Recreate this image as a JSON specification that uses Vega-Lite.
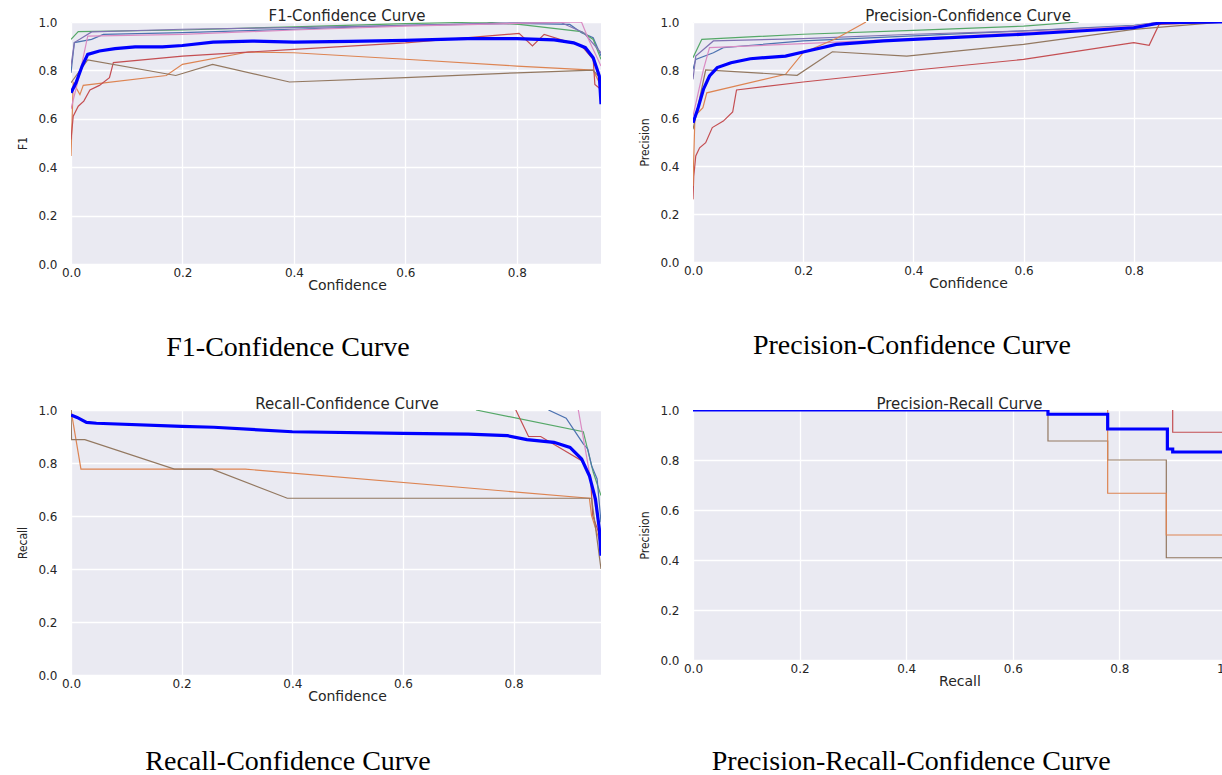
{
  "$schema": "https://vega.github.io/schema/vega-lite/v6.json",
  "background": "white",
  "padding": {"left": 16, "top": 9, "right": 0, "bottom": 0},
  "config": {
    "view": {"fill": "#EAEAF2", "stroke": null},
    "axis": {"domain": false, "ticks": false, "tickSize": 0, "gridColor": "white", "gridWidth": 1.3, "labelFont": "DejaVu Sans", "labelFontSize": 12, "labelColor": "#262626", "labelFlush": false, "titleFont": "DejaVu Sans", "titleFontWeight": "normal", "titleColor": "#262626", "titleFontSize": 14},
    "axisY": {"labelPadding": 14, "titlePadding": 8, "titleFont": "DejaVu Sans Condensed", "titleFontSize": 12},
    "axisX": {"labelPadding": 3, "titlePadding": 0},
    "title": {"font": "DejaVu Sans", "fontSize": 15, "fontWeight": "normal", "color": "#262626", "offset": -8, "anchor": "middle"}
  },
  "datasets": {
    "f1": [
      {"c":"blue","x":0,"y":0.79,"i":0},{"c":"blue","x":0.006,"y":0.915,"i":1},{"c":"blue","x":0.037,"y":0.928,"i":2},{"c":"blue","x":0.058,"y":0.949,"i":3},{"c":"blue","x":0.2,"y":0.956,"i":4},{"c":"blue","x":0.4,"y":0.97,"i":5},{"c":"blue","x":0.6,"y":0.986,"i":6},{"c":"blue","x":0.8,"y":0.994,"i":7},{"c":"blue","x":0.895,"y":0.99,"i":8},{"c":"blue","x":0.916,"y":0.956,"i":9},{"c":"blue","x":0.937,"y":0.935,"i":10},{"c":"blue","x":0.951,"y":0.86,"i":11},
      {"c":"orange","x":0,"y":0.446,"i":0},{"c":"orange","x":0.004,"y":0.749,"i":1},{"c":"orange","x":0.016,"y":0.70,"i":2},{"c":"orange","x":0.022,"y":0.738,"i":3},{"c":"orange","x":0.171,"y":0.779,"i":4},{"c":"orange","x":0.2,"y":0.825,"i":5},{"c":"orange","x":0.318,"y":0.876,"i":6},{"c":"orange","x":0.4,"y":0.873,"i":7},{"c":"orange","x":0.6,"y":0.846,"i":8},{"c":"orange","x":0.8,"y":0.818,"i":9},{"c":"orange","x":0.937,"y":0.801,"i":10},{"c":"orange","x":0.951,"y":0.735,"i":11},
      {"c":"green","x":0,"y":0.928,"i":0},{"c":"green","x":0.013,"y":0.96,"i":1},{"c":"green","x":0.2,"y":0.967,"i":2},{"c":"green","x":0.4,"y":0.98,"i":3},{"c":"green","x":0.6,"y":0.993,"i":4},{"c":"green","x":0.74,"y":1.0,"i":5},{"c":"green","x":0.804,"y":0.99,"i":6},{"c":"green","x":0.916,"y":0.96,"i":7},{"c":"green","x":0.937,"y":0.928,"i":8},{"c":"green","x":0.951,"y":0.846,"i":9},
      {"c":"red","x":0,"y":0.514,"i":0},{"c":"red","x":0.004,"y":0.611,"i":1},{"c":"red","x":0.013,"y":0.652,"i":2},{"c":"red","x":0.023,"y":0.673,"i":3},{"c":"red","x":0.034,"y":0.719,"i":4},{"c":"red","x":0.051,"y":0.738,"i":5},{"c":"red","x":0.069,"y":0.77,"i":6},{"c":"red","x":0.076,"y":0.832,"i":7},{"c":"red","x":0.2,"y":0.859,"i":8},{"c":"red","x":0.4,"y":0.887,"i":9},{"c":"red","x":0.6,"y":0.914,"i":10},{"c":"red","x":0.804,"y":0.953,"i":11},{"c":"red","x":0.828,"y":0.901,"i":12},{"c":"red","x":0.849,"y":0.949,"i":13},{"c":"red","x":0.916,"y":0.901,"i":14},{"c":"red","x":0.937,"y":0.846,"i":15},{"c":"red","x":0.94,"y":0.742,"i":16},{"c":"red","x":0.951,"y":0.721,"i":17},
      {"c":"purple","x":0,"y":0.818,"i":0},{"c":"purple","x":0.006,"y":0.915,"i":1},{"c":"purple","x":0.037,"y":0.959,"i":2},{"c":"purple","x":0.2,"y":0.97,"i":3},{"c":"purple","x":0.4,"y":0.977,"i":4},{"c":"purple","x":0.6,"y":0.986,"i":5},{"c":"purple","x":0.8,"y":0.997,"i":6},{"c":"purple","x":0.88,"y":0.997,"i":7},{"c":"purple","x":0.92,"y":0.956,"i":8},{"c":"purple","x":0.951,"y":0.873,"i":9},
      {"c":"brown","x":0,"y":0.749,"i":0},{"c":"brown","x":0.03,"y":0.843,"i":1},{"c":"brown","x":0.188,"y":0.779,"i":2},{"c":"brown","x":0.254,"y":0.825,"i":3},{"c":"brown","x":0.392,"y":0.752,"i":4},{"c":"brown","x":0.6,"y":0.77,"i":5},{"c":"brown","x":0.8,"y":0.79,"i":6},{"c":"brown","x":0.937,"y":0.801,"i":7},{"c":"brown","x":0.951,"y":0.763,"i":8},
      {"c":"pink","x":0,"y":0.64,"i":0},{"c":"pink","x":0.016,"y":0.79,"i":1},{"c":"pink","x":0.03,"y":0.942,"i":2},{"c":"pink","x":0.2,"y":0.949,"i":3},{"c":"pink","x":0.4,"y":0.967,"i":4},{"c":"pink","x":0.6,"y":0.983,"i":5},{"c":"pink","x":0.8,"y":0.994,"i":6},{"c":"pink","x":0.916,"y":1.0,"i":7},{"c":"pink","x":0.93,"y":0.921,"i":8},{"c":"pink","x":0.951,"y":0.818,"i":9},
      {"c":"all","x":0,"y":0.708,"i":0},{"c":"all","x":0.009,"y":0.749,"i":1},{"c":"all","x":0.02,"y":0.818,"i":2},{"c":"all","x":0.03,"y":0.866,"i":3},{"c":"all","x":0.051,"y":0.88,"i":4},{"c":"all","x":0.079,"y":0.89,"i":5},{"c":"all","x":0.115,"y":0.897,"i":6},{"c":"all","x":0.164,"y":0.897,"i":7},{"c":"all","x":0.2,"y":0.903,"i":8},{"c":"all","x":0.255,"y":0.917,"i":9},{"c":"all","x":0.325,"y":0.921,"i":10},{"c":"all","x":0.4,"y":0.917,"i":11},{"c":"all","x":0.5,"y":0.92,"i":12},{"c":"all","x":0.6,"y":0.924,"i":13},{"c":"all","x":0.712,"y":0.931,"i":14},{"c":"all","x":0.8,"y":0.931,"i":15},{"c":"all","x":0.867,"y":0.926,"i":16},{"c":"all","x":0.902,"y":0.914,"i":17},{"c":"all","x":0.923,"y":0.894,"i":18},{"c":"all","x":0.937,"y":0.852,"i":19},{"c":"all","x":0.948,"y":0.777,"i":20},{"c":"all","x":0.951,"y":0.66,"i":21}
    ],
    "prec": [
      {"c":"green","x":0,"y":0.851,"i":0},{"c":"green","x":0.016,"y":0.928,"i":1},{"c":"green","x":0.2,"y":0.949,"i":2},{"c":"green","x":0.4,"y":0.965,"i":3},{"c":"green","x":0.6,"y":0.983,"i":4},{"c":"green","x":0.7,"y":1.0,"i":5},
      {"c":"blue","x":0,"y":0.803,"i":0},{"c":"blue","x":0.005,"y":0.844,"i":1},{"c":"blue","x":0.037,"y":0.872,"i":2},{"c":"blue","x":0.055,"y":0.893,"i":3},{"c":"blue","x":0.2,"y":0.921,"i":4},{"c":"blue","x":0.4,"y":0.942,"i":5},{"c":"blue","x":0.6,"y":0.963,"i":6},{"c":"blue","x":0.8,"y":0.986,"i":7},{"c":"blue","x":0.842,"y":0.997,"i":8},{"c":"blue","x":0.962,"y":1.0,"i":9},
      {"c":"purple","x":0,"y":0.761,"i":0},{"c":"purple","x":0.005,"y":0.858,"i":1},{"c":"purple","x":0.037,"y":0.921,"i":2},{"c":"purple","x":0.2,"y":0.931,"i":3},{"c":"purple","x":0.4,"y":0.949,"i":4},{"c":"purple","x":0.6,"y":0.963,"i":5},{"c":"purple","x":0.8,"y":0.983,"i":6},{"c":"purple","x":0.85,"y":1.0,"i":7},
      {"c":"pink","x":0,"y":0.608,"i":0},{"c":"pink","x":0.019,"y":0.803,"i":1},{"c":"pink","x":0.03,"y":0.893,"i":2},{"c":"pink","x":0.2,"y":0.91,"i":3},{"c":"pink","x":0.4,"y":0.931,"i":4},{"c":"pink","x":0.6,"y":0.956,"i":5},{"c":"pink","x":0.8,"y":0.983,"i":6},{"c":"pink","x":0.85,"y":1.0,"i":7},
      {"c":"red","x":0,"y":0.261,"i":0},{"c":"red","x":0.0014,"y":0.358,"i":1},{"c":"red","x":0.005,"y":0.442,"i":2},{"c":"red","x":0.012,"y":0.476,"i":3},{"c":"red","x":0.023,"y":0.497,"i":4},{"c":"red","x":0.035,"y":0.56,"i":5},{"c":"red","x":0.055,"y":0.587,"i":6},{"c":"red","x":0.072,"y":0.625,"i":7},{"c":"red","x":0.079,"y":0.717,"i":8},{"c":"red","x":0.2,"y":0.75,"i":9},{"c":"red","x":0.4,"y":0.799,"i":10},{"c":"red","x":0.6,"y":0.844,"i":11},{"c":"red","x":0.8,"y":0.914,"i":12},{"c":"red","x":0.828,"y":0.903,"i":13},{"c":"red","x":0.846,"y":0.99,"i":14},{"c":"red","x":0.962,"y":1.0,"i":15},
      {"c":"orange","x":0,"y":0.317,"i":0},{"c":"orange","x":0.0035,"y":0.608,"i":1},{"c":"orange","x":0.018,"y":0.643,"i":2},{"c":"orange","x":0.025,"y":0.705,"i":3},{"c":"orange","x":0.168,"y":0.782,"i":4},{"c":"orange","x":0.2,"y":0.872,"i":5},{"c":"orange","x":0.26,"y":0.931,"i":6},{"c":"orange","x":0.314,"y":1.0,"i":7},
      {"c":"brown","x":0,"y":0.553,"i":0},{"c":"brown","x":0.023,"y":0.8,"i":1},{"c":"brown","x":0.189,"y":0.778,"i":2},{"c":"brown","x":0.253,"y":0.876,"i":3},{"c":"brown","x":0.388,"y":0.858,"i":4},{"c":"brown","x":0.6,"y":0.907,"i":5},{"c":"brown","x":0.8,"y":0.969,"i":6},{"c":"brown","x":0.962,"y":1.0,"i":7},
      {"c":"all","x":0,"y":0.58,"i":0},{"c":"all","x":0.0085,"y":0.636,"i":1},{"c":"all","x":0.019,"y":0.72,"i":2},{"c":"all","x":0.03,"y":0.775,"i":3},{"c":"all","x":0.044,"y":0.81,"i":4},{"c":"all","x":0.069,"y":0.83,"i":5},{"c":"all","x":0.104,"y":0.847,"i":6},{"c":"all","x":0.168,"y":0.858,"i":7},{"c":"all","x":0.2,"y":0.875,"i":8},{"c":"all","x":0.26,"y":0.907,"i":9},{"c":"all","x":0.346,"y":0.921,"i":10},{"c":"all","x":0.4,"y":0.928,"i":11},{"c":"all","x":0.6,"y":0.949,"i":12},{"c":"all","x":0.8,"y":0.976,"i":13},{"c":"all","x":0.85,"y":0.997,"i":14},{"c":"all","x":0.962,"y":1.0,"i":15}
    ],
    "rec": [
      {"c":"green","x":0.732,"y":1.0,"i":0},{"c":"green","x":0.926,"y":0.918,"i":1},{"c":"green","x":0.944,"y":0.765,"i":2},{"c":"green","x":0.958,"y":0.677,"i":3},
      {"c":"blue","x":0.863,"y":1.0,"i":0},{"c":"blue","x":0.895,"y":0.969,"i":1},{"c":"blue","x":0.916,"y":0.903,"i":2},{"c":"blue","x":0.926,"y":0.872,"i":3},{"c":"blue","x":0.934,"y":0.853,"i":4},{"c":"blue","x":0.941,"y":0.79,"i":5},{"c":"blue","x":0.951,"y":0.74,"i":6},{"c":"blue","x":0.958,"y":0.576,"i":7},
      {"c":"pink","x":0.917,"y":1.0,"i":0},{"c":"pink","x":0.937,"y":0.765,"i":1},{"c":"pink","x":0.958,"y":0.513,"i":2},
      {"c":"red","x":0.804,"y":1.0,"i":0},{"c":"red","x":0.827,"y":0.9,"i":1},{"c":"red","x":0.849,"y":0.9,"i":2},{"c":"red","x":0.923,"y":0.809,"i":3},{"c":"red","x":0.939,"y":0.752,"i":4},{"c":"red","x":0.943,"y":0.601,"i":5},{"c":"red","x":0.958,"y":0.513,"i":6},
      {"c":"orange","x":0,"y":1.0,"i":0},{"c":"orange","x":0.009,"y":0.888,"i":1},{"c":"orange","x":0.018,"y":0.777,"i":2},{"c":"orange","x":0.315,"y":0.777,"i":3},{"c":"orange","x":0.937,"y":0.667,"i":4},{"c":"orange","x":0.941,"y":0.601,"i":5},{"c":"orange","x":0.958,"y":0.488,"i":6},
      {"c":"brown","x":0,"y":1.0,"i":0},{"c":"brown","x":0.001,"y":0.888,"i":1},{"c":"brown","x":0.025,"y":0.888,"i":2},{"c":"brown","x":0.187,"y":0.777,"i":3},{"c":"brown","x":0.255,"y":0.777,"i":4},{"c":"brown","x":0.391,"y":0.667,"i":5},{"c":"brown","x":0.941,"y":0.667,"i":6},{"c":"brown","x":0.958,"y":0.4,"i":7},
      {"c":"all","x":0,"y":0.981,"i":0},{"c":"all","x":0.011,"y":0.972,"i":1},{"c":"all","x":0.028,"y":0.953,"i":2},{"c":"all","x":0.046,"y":0.95,"i":3},{"c":"all","x":0.2,"y":0.938,"i":4},{"c":"all","x":0.258,"y":0.935,"i":5},{"c":"all","x":0.4,"y":0.918,"i":6},{"c":"all","x":0.6,"y":0.912,"i":7},{"c":"all","x":0.718,"y":0.909,"i":8},{"c":"all","x":0.789,"y":0.903,"i":9},{"c":"all","x":0.824,"y":0.888,"i":10},{"c":"all","x":0.873,"y":0.878,"i":11},{"c":"all","x":0.902,"y":0.859,"i":12},{"c":"all","x":0.923,"y":0.815,"i":13},{"c":"all","x":0.937,"y":0.752,"i":14},{"c":"all","x":0.948,"y":0.664,"i":15},{"c":"all","x":0.955,"y":0.551,"i":16},{"c":"all","x":0.958,"y":0.45,"i":17}
    ],
    "pr": [
      {"c":"brown","x":0.666,"y":1.0,"i":0},{"c":"brown","x":0.666,"y":0.876,"i":1},{"c":"brown","x":0.778,"y":0.876,"i":2},{"c":"brown","x":0.778,"y":0.8,"i":3},{"c":"brown","x":0.888,"y":0.8,"i":4},{"c":"brown","x":0.888,"y":0.409,"i":5},{"c":"brown","x":1.0,"y":0.409,"i":6},
      {"c":"orange","x":0.778,"y":1.0,"i":0},{"c":"orange","x":0.778,"y":0.667,"i":1},{"c":"orange","x":0.888,"y":0.667,"i":2},{"c":"orange","x":0.888,"y":0.5,"i":3},{"c":"orange","x":1.0,"y":0.5,"i":4},
      {"c":"red","x":0.9,"y":1.0,"i":0},{"c":"red","x":0.9,"y":0.911,"i":1},{"c":"red","x":1.0,"y":0.911,"i":2},
      {"c":"all","x":0,"y":1.0,"i":0},{"c":"all","x":0.666,"y":1.0,"i":1},{"c":"all","x":0.666,"y":0.983,"i":2},{"c":"all","x":0.778,"y":0.983,"i":3},{"c":"all","x":0.778,"y":0.924,"i":4},{"c":"all","x":0.89,"y":0.924,"i":5},{"c":"all","x":0.89,"y":0.844,"i":6},{"c":"all","x":0.9,"y":0.844,"i":7},{"c":"all","x":0.9,"y":0.832,"i":8},{"c":"all","x":1.0,"y":0.832,"i":9}
    ]
  },
  "spacing": 35,
  "vconcat": [
    {
      "spacing": 37,
      "hconcat": [
        {
          "title": {"text": "F1-Confidence Curve", "orient": "bottom", "anchor": "middle", "font": "Liberation Serif", "fontSize": 28, "fontWeight": "normal", "color": "black", "offset": 42, "dx": -21},
          "vconcat": [
            {
              "width": 530, "height": 242,
              "title": {"text": "F1-Confidence Curve", "dx": 11},
              "data": {"name": "f1"},
              "encoding": {
                "x": {"field": "x", "type": "quantitative", "scale": {"domain": [0, 0.951], "nice": false, "zero": false}, "axis": {"values": [0, 0.2, 0.4, 0.6, 0.8], "format": ".1f", "title": "Confidence", "titleX": 276}},
                "y": {"field": "y", "type": "quantitative", "scale": {"domain": [0, 1], "nice": false}, "axis": {"values": [0, 0.2, 0.4, 0.6, 0.8, 1.0], "format": ".1f", "title": "F1"}},
                "order": {"field": "i", "type": "quantitative"}
              },
              "layer": [
                {"transform": [{"filter": "datum.c !== 'all'"}], "mark": {"type": "line", "clip": true, "strokeWidth": 1.2},
                 "encoding": {"color": {"field": "c", "type": "nominal", "legend": null, "scale": {"domain": ["blue","orange","green","red","purple","brown","pink"], "range": ["#4C72B0","#DD8452","#55A868","#C44E52","#8172B3","#937860","#DA8BC3"]}}}},
                {"transform": [{"filter": "datum.c === 'all'"}], "mark": {"type": "line", "clip": true, "strokeWidth": 3.2, "color": "#0000FF"}, "encoding": {}}
              ]
            }
          ]
        },
        {
          "title": {"text": "Precision-Confidence Curve", "orient": "bottom", "anchor": "middle", "font": "Liberation Serif", "fontSize": 28, "fontWeight": "normal", "color": "black", "offset": 42, "dx": -19},
          "vconcat": [
            {
              "width": 530, "height": 240,
              "title": {"text": "Precision-Confidence Curve", "dx": 10},
              "data": {"name": "prec"},
              "encoding": {
                "x": {"field": "x", "type": "quantitative", "scale": {"domain": [0, 0.962], "nice": false, "zero": false}, "axis": {"values": [0, 0.2, 0.4, 0.6, 0.8], "format": ".1f", "title": "Confidence", "titleX": 275}},
                "y": {"field": "y", "type": "quantitative", "scale": {"domain": [0, 1], "nice": false}, "axis": {"values": [0, 0.2, 0.4, 0.6, 0.8, 1.0], "format": ".1f", "title": "Precision"}},
                "order": {"field": "i", "type": "quantitative"}
              },
              "layer": [
                {"transform": [{"filter": "datum.c !== 'all'"}], "mark": {"type": "line", "clip": true, "strokeWidth": 1.2},
                 "encoding": {"color": {"field": "c", "type": "nominal", "legend": null, "scale": {"domain": ["blue","orange","green","red","purple","brown","pink"], "range": ["#4C72B0","#DD8452","#55A868","#C44E52","#8172B3","#937860","#DA8BC3"]}}}},
                {"transform": [{"filter": "datum.c === 'all'"}], "mark": {"type": "line", "clip": true, "strokeWidth": 3.2, "color": "#0000FF"}, "encoding": {}}
              ]
            }
          ]
        }
      ]
    },
    {
      "spacing": 37,
      "hconcat": [
        {
          "title": {"text": "Recall-Confidence Curve", "orient": "bottom", "anchor": "middle", "font": "Liberation Serif", "fontSize": 28, "fontWeight": "normal", "color": "black", "offset": 45, "dx": -21},
          "vconcat": [
            {
              "width": 530, "height": 265,
              "title": {"text": "Recall-Confidence Curve", "dx": 11},
              "data": {"name": "rec"},
              "encoding": {
                "x": {"field": "x", "type": "quantitative", "scale": {"domain": [0, 0.958], "nice": false, "zero": false}, "axis": {"values": [0, 0.2, 0.4, 0.6, 0.8], "format": ".1f", "title": "Confidence", "titleX": 276}},
                "y": {"field": "y", "type": "quantitative", "scale": {"domain": [0, 1], "nice": false}, "axis": {"values": [0, 0.2, 0.4, 0.6, 0.8, 1.0], "format": ".1f", "title": "Recall"}},
                "order": {"field": "i", "type": "quantitative"}
              },
              "layer": [
                {"transform": [{"filter": "datum.c !== 'all'"}], "mark": {"type": "line", "clip": true, "strokeWidth": 1.2},
                 "encoding": {"color": {"field": "c", "type": "nominal", "legend": null, "scale": {"domain": ["blue","orange","green","red","purple","brown","pink"], "range": ["#4C72B0","#DD8452","#55A868","#C44E52","#8172B3","#937860","#DA8BC3"]}}}},
                {"transform": [{"filter": "datum.c === 'all'"}], "mark": {"type": "line", "clip": true, "strokeWidth": 3.2, "color": "#0000FF"}, "encoding": {}}
              ]
            }
          ]
        },
        {
          "title": {"text": "Precision-Recall-Confidence Curve", "orient": "bottom", "anchor": "middle", "font": "Liberation Serif", "fontSize": 28, "fontWeight": "normal", "color": "black", "offset": 60, "dx": -26},
          "vconcat": [
            {
              "width": 533, "height": 250,
              "title": "Precision-Recall Curve",
              "data": {"name": "pr"},
              "encoding": {
                "x": {"field": "x", "type": "quantitative", "scale": {"domain": [0, 1], "nice": false, "zero": false}, "axis": {"values": [0, 0.2, 0.4, 0.6, 0.8, 1.0], "format": ".1f", "title": "Recall"}},
                "y": {"field": "y", "type": "quantitative", "scale": {"domain": [0, 1], "nice": false}, "axis": {"values": [0, 0.2, 0.4, 0.6, 0.8, 1.0], "format": ".1f", "title": "Precision"}},
                "order": {"field": "i", "type": "quantitative"}
              },
              "layer": [
                {"transform": [{"filter": "datum.c !== 'all'"}], "mark": {"type": "line", "clip": true, "strokeWidth": 1.2},
                 "encoding": {"color": {"field": "c", "type": "nominal", "legend": null, "scale": {"domain": ["blue","orange","green","red","purple","brown","pink"], "range": ["#4C72B0","#DD8452","#55A868","#C44E52","#8172B3","#937860","#DA8BC3"]}}}},
                {"transform": [{"filter": "datum.c === 'all'"}], "mark": {"type": "line", "clip": true, "strokeWidth": 3.2, "color": "#0000FF"}, "encoding": {}}
              ]
            }
          ]
        }
      ]
    }
  ]
}
